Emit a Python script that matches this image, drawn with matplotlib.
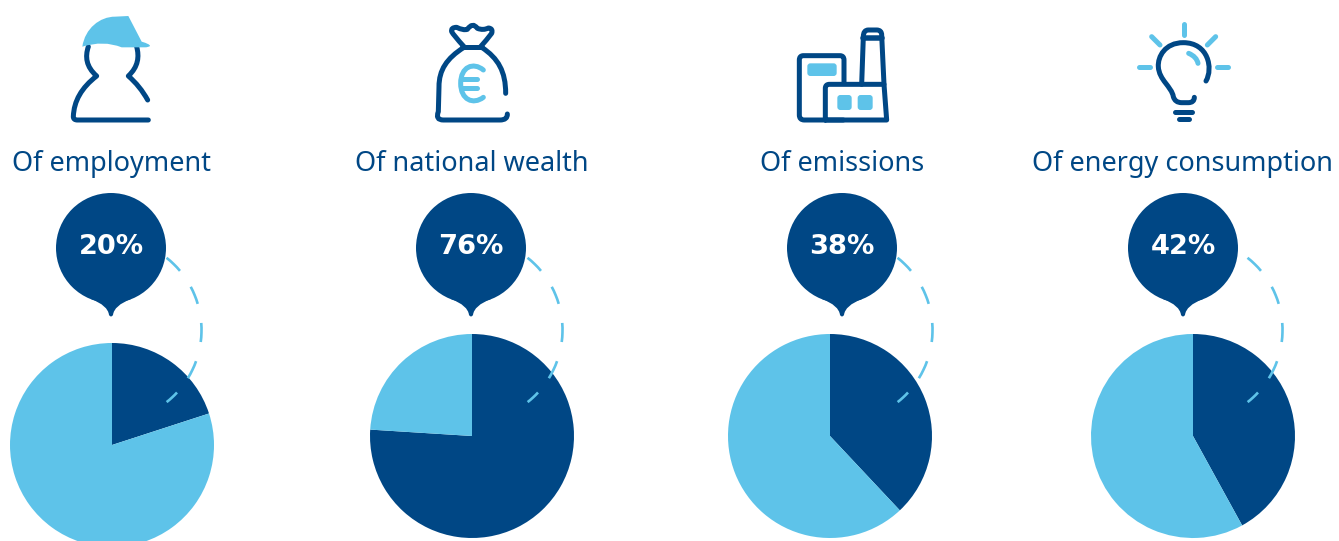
import re
import matplotlib
matplotlib.use("Agg")
import matplotlib.pyplot as plt
from matplotlib.path import Path
from matplotlib.patches import PathPatch, Circle, Arc, FancyBboxPatch

# ---- data ----
categories = ["Of employment", "Of national wealth", "Of emissions", "Of energy consumption"]
shares = [20, 76, 38, 42]

# ---- layout (pixels, y measured from the top) ----
W, H = 1339, 541
DARK, LIGHT = "#004785", "#5EC3E9"
pie_centers = [(112, 445), (472, 436), (830, 436), (1193, 436)]
pie_radius = 102
bubble_x = [111, 471, 842, 1183]
bubble_y, bubble_r, bubble_tip = 248, 55, 317
title_x = [111, 472, 842, 1183]
arc_dx = [0, 361, 731, 1081]
arc_dashes = [(40, 51.7), (16.5, 28), (-7.5, 4.4), (-31.6, -19.8), (-51.6, -42.8)]

fig = plt.figure(figsize=(W / 100, H / 100), dpi=100)
ax = fig.add_axes([0, 0, 1, 1])


def yy(y):
    return H - y


def svg(d, ox=0.0, oy=0.0, s=1 / 3):
    toks = re.findall(r"[MLQCZ]|-?\d+\.?\d*", d)
    verts, codes = [], []
    i = 0
    n = {"M": 1, "L": 1, "Q": 2, "C": 3}
    cm = {"M": [Path.MOVETO], "L": [Path.LINETO], "Q": [Path.CURVE3] * 2, "C": [Path.CURVE4] * 3}
    while i < len(toks):
        c = toks[i]
        i += 1
        if c == "Z":
            verts.append(verts[0])
            codes.append(Path.CLOSEPOLY)
            continue
        for k in range(n[c]):
            x, y = float(toks[i]), float(toks[i + 1])
            i += 2
            verts.append((ox + x * s, yy(oy + y * s)))
        codes.extend(cm[c])
    return Path(verts, codes)


def stroke(d, ox, oy, color=DARK, lw=5.0):
    for part in re.findall(r"M[^M]*", d):
        ax.add_patch(PathPatch(svg(part, ox, oy), fc="none", ec=color, lw=lw * 0.72,
                               capstyle="round", joinstyle="round", zorder=5))


def fill(d, ox, oy, color=LIGHT):
    ax.add_patch(PathPatch(svg(d, ox, oy), fc=color, ec="none", zorder=6))


def rbox(x0, y0, x1, y1, ox, oy, color=LIGHT, r=3):
    ax.add_patch(FancyBboxPatch((ox + x0 / 3 + r, yy(oy + y1 / 3) + r), (x1 - x0) / 3 - 2 * r, (y1 - y0) / 3 - 2 * r,
                                boxstyle=f"round,pad={r}", fc=color, ec="none", zorder=6))


# ---- pies ----
for v, (cx, cy) in zip(shares, pie_centers):
    ax.pie([v, 100 - v], colors=[DARK, LIGHT], startangle=90, counterclock=False,
           center=(cx, yy(cy)), radius=pie_radius, wedgeprops={"linewidth": 0, "zorder": 2})

# ---- dashed arcs, bubbles, titles ----
for dx, bx, v, name, tx in zip(arc_dx, bubble_x, shares, categories, title_x):
    for a0, a1 in arc_dashes:
        ax.add_patch(Arc((109.5 + dx, yy(330)), 184, 184, theta1=a0, theta2=a1, ec=LIGHT, lw=1.9, zorder=3))
    ax.add_patch(Circle((bx, yy(bubble_y)), bubble_r, fc=DARK, ec="none", zorder=4))
    tip = Path([(bx - 20, yy(bubble_y + 51)), (bx - 3, yy(305.5)), (bx - 2, yy(bubble_tip - 2)),
                (bx, yy(bubble_tip + 1)), (bx + 2, yy(bubble_tip - 2)),
                (bx + 3, yy(305.5)), (bx + 20, yy(bubble_y + 51)), (bx - 20, yy(bubble_y + 51))],
               [Path.MOVETO, Path.CURVE3, Path.CURVE3, Path.CURVE3, Path.CURVE3, Path.CURVE3, Path.CURVE3, Path.CLOSEPOLY])
    ax.add_patch(PathPatch(tip, fc=DARK, ec="none", zorder=4))
    ax.text(bx, yy(254), f"{v}%", color="white", fontsize=19.6, fontweight="bold", family="DejaVu Sans",
            ha="center", va="baseline", zorder=7)
    ax.text(tx, yy(171), name, color=DARK, fontsize=19.5, family="Noto Sans",
            ha="center", va="baseline", zorder=7)

# ---- icons ----
# worker
stroke("M 265 140 C 255 170 258 200 290 228 Q 222 280 220 350 Q 220 360 232 360 L 445 360", 0, 0)
stroke("M 410 140 C 418 170 415 200 385 228 Q 420 258 443 300", 0, 0)
fill("M 247 140 C 255 85 300 50 345 50 L 385 48 L 425 125 Q 450 132 450 138 Q 445 142 435 142 L 365 142 Q 310 120 247 140 Z", 0, 0)
# money bag
ox = 340
stroke("M 372 140 Q 340 105 335 95 Q 332 82 350 82 Q 370 92 382 88 Q 398 65 412 85 Q 430 92 445 84 Q 460 85 455 100 Q 440 120 420 142", ox, 0)
stroke("M 365 142 L 425 142", ox, 0)
stroke("M 372 142 C 320 175 297 210 297 260 L 295 335 Q 285 360 310 360 L 480 360 Q 503 360 502 342", ox, 0)
stroke("M 425 142 C 475 175 497 215 497 280", ox, 0)
stroke("M 430 210 C 400 185 362 200 362 250 C 362 300 400 315 430 292 M 362 237 L 410 237 M 362 265 L 410 265", ox, 0, LIGHT)
# factory
ox = 760
stroke("M 252 250 L 252 180 Q 252 167 240 167 L 130 167 Q 118 167 118 180 L 118 345 Q 118 360 133 360 L 250 360", ox, 0)
stroke("M 196 360 L 196 265 Q 196 253 208 253 L 372 253 L 380 360 L 196 360", ox, 0)
stroke("M 305 253 L 310 110 Q 310 90 325 90 L 350 90 Q 365 90 365 105 L 372 253", ox, 0)
stroke("M 310 113 L 365 113", ox, 0, lw=5.5)
rbox(142, 190, 230, 228, ox, 0)
rbox(232, 285, 275, 330, ox, 0)
rbox(293, 285, 338, 330, ox, 0)
# bulb
ox = 1110
stroke("M 221 72 L 221 105 M 125 110 L 150 135 M 317 110 L 292 135 M 87 200 L 120 200 M 322 200 L 355 200 M 236 160 Q 260 170 264 190", ox, 0, LIGHT)
stroke("M 288 243 C 310 205 295 128 220 128 C 165 128 143 170 145 200 C 147 240 185 260 190 290 Q 195 308 215 308 L 235 308 Q 253 308 253 292", ox, 0)
stroke("M 195 335 L 247 335 M 207 358 L 237 358", ox, 0)

ax.set_xlim(0, W)
ax.set_ylim(0, H)
ax.set_aspect("equal")
ax.set_axis_off()
fig.savefig("out.png", dpi=100, facecolor="white")
